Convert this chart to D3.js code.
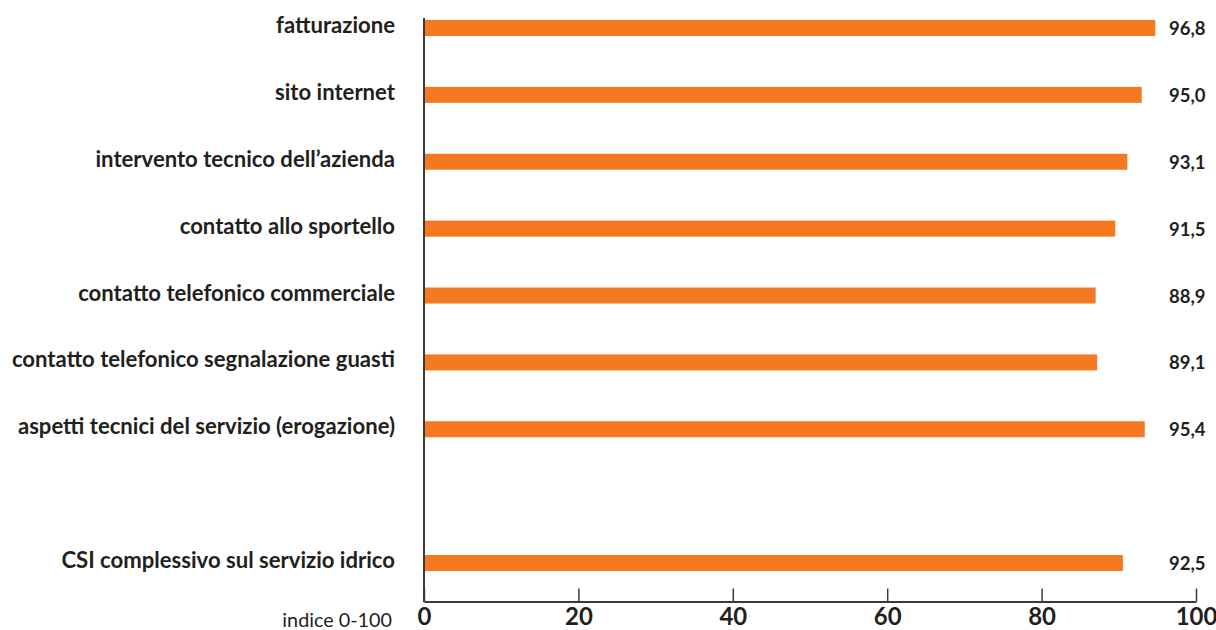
<!DOCTYPE html>
<html lang="it">
<head>
    <meta charset="UTF-8">
    <title>CSI servizio idrico</title>
    <script src="https://d3js.org/d3.v7.min.js"></script>
    <style>
        body { margin: 0; background: #fff; }
        text { font-family: Lato, "Open Sans", sans-serif; fill: #231f20; }
    </style>
</head>
<body>
<svg></svg>
<script>
    // categories top to bottom (a blank slot sits before the overall index)
    const categories = [
        "fatturazione",
        "sito internet",
        "intervento tecnico dell\u2019azienda",
        "contatto allo sportello",
        "contatto telefonico commerciale",
        "contatto telefonico segnalazione guasti",
        "aspetti tecnici del servizio (erogazione)",
        "CSI complessivo sul servizio idrico"
    ];
    const values = [96.8, 95.0, 93.1, 91.5, 88.9, 89.1, 95.4, 92.5];
    const ticks = [0, 20, 40, 60, 80, 100];
    const axisTitle = "indice 0-100";

    const width = 1216;
    const height = 630;
    const x0 = 424;

    const svg = d3.select("svg")
        .attr("width", width)
        .attr("height", height);

    // axis scale
    let x = d3.scaleLinear().domain([0, 100]).range([x0, 1196]);
    // the original draws the bars on a slightly shorter run than the axis
    let xBar = d3.scaleLinear().domain([0, 100]).range([x0, 1179.5]);

    let slots = categories.slice(0, 7).concat(["__gap__"], categories.slice(7));
    let y = d3.scalePoint().domain(slots).range([28, 563]);

    let fmt = v => d3.format(".1f")(v).replace(".", ",");

    let rows = svg.append("g")
        .selectAll("g")
        .data(categories.map((c, i) => ({cat: c, val: values[i]})))
        .join("g")
        .attr("transform", d => "translate(0," + y(d.cat) + ")");

    rows.append("rect")
        .attr("x", xBar(0))
        .attr("y", -8)
        .attr("height", 16)
        .attr("width", d => xBar(d.val) - xBar(0))
        .attr("fill", "#f47920");

    rows.append("text")
        .attr("x", 395)
        .attr("y", 5)
        .attr("text-anchor", "end")
        .style("font-size", "22.1px")
        .style("font-weight", 700)
        .text(d => d.cat);

    rows.append("text")
        .attr("x", 1169)
        .attr("y", 7)
        .style("font-size", "18.5px")
        .style("font-weight", 700)
        .text(d => fmt(d.val));

    // vertical axis line
    svg.append("line")
        .attr("x1", x0).attr("x2", x0)
        .attr("y1", 18).attr("y2", 602)
        .attr("stroke", "#3a3a3a")
        .attr("stroke-width", 2);

    let xAxis = svg.append("g")
        .attr("transform", "translate(0,601.5)")
        .call(d3.axisBottom(x)
            .tickValues(ticks)
            .tickSizeInner(-13)
            .tickSizeOuter(0)
            .tickPadding(6.5));

    xAxis.select(".domain").attr("stroke", "#3a3a3a").attr("stroke-width", 2);
    xAxis.selectAll(".tick line").attr("stroke", "#3a3a3a").attr("stroke-width", 1.5);
    xAxis.selectAll(".tick text")
        .style("font-family", "Lato, sans-serif")
        .style("font-size", "24px")
        .style("font-weight", 700)
        .attr("fill", "#231f20");

    svg.append("text")
        .attr("x", 392)
        .attr("y", 627)
        .attr("text-anchor", "end")
        .style("font-size", "19.8px")
        .text(axisTitle);
</script>
</body>
</html>
